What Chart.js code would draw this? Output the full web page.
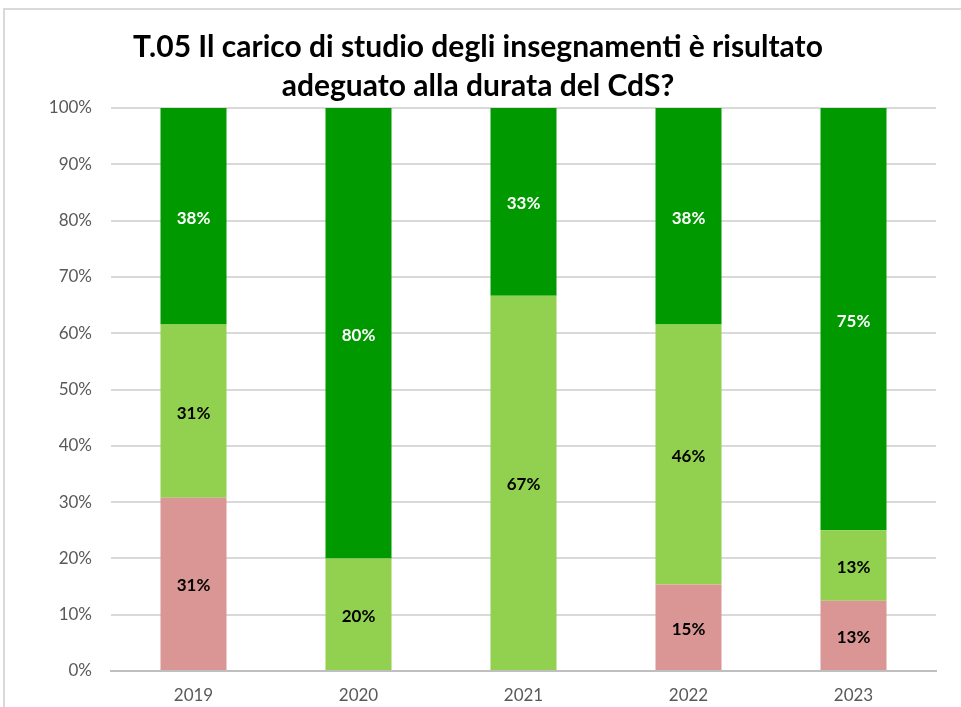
<!DOCTYPE html>
<html>
<head>
<meta charset="utf-8">
<script src="https://cdn.jsdelivr.net/npm/chart.js@4/dist/chart.umd.min.js"></script>
<style>
  html, body { margin: 0; padding: 0; background: #ffffff; }
  #wrap { width: 961px; height: 707px; position: relative; }
</style>
</head>
<body>
<div id="wrap"><canvas id="c" width="961" height="707"></canvas></div>
<script>
const categories = ['2019', '2020', '2021', '2022', '2023'];
// shares in percent (stack: bottom → top)
const seriesLow = [30.77, 0, 0, 15.38, 12.5];     // pink
const seriesMid = [30.77, 20, 66.67, 46.15, 12.5]; // light green
const seriesHigh = [38.46, 80, 33.33, 38.46, 75];  // dark green
const yTicks = [0, 10, 20, 30, 40, 50, 60, 70, 80, 90, 100];
const titleLines = ['T.05 Il carico di studio degli insegnamenti è risultato', 'adeguato alla durata del CdS?'];

const FONT = 'Lato, "Open Sans", "Liberation Sans", sans-serif';

const framePlugin = {
  id: 'frame',
  beforeDraw(chart) {
    const ctx = chart.ctx;
    ctx.save();
    ctx.strokeStyle = '#D9D9D9';
    ctx.lineWidth = 2;
    ctx.beginPath();
    ctx.moveTo(4, 707);
    ctx.lineTo(4, 9);
    ctx.lineTo(961, 9);
    ctx.stroke();
    ctx.restore();
  }
};

const labelPlugin = {
  id: 'barLabels',
  afterDatasetsDraw(chart) {
    const ctx = chart.ctx;
    ctx.save();
    ctx.font = 'bold 17px ' + FONT;
    ctx.textAlign = 'center';
    ctx.textBaseline = 'middle';
    chart.data.datasets.forEach((ds, di) => {
      const meta = chart.getDatasetMeta(di);
      meta.data.forEach((bar, i) => {
        const v = ds.data[i];
        if (!v) return;
        const p = bar.getProps(['x', 'y', 'base'], true);
        ctx.fillStyle = ds.labelColor;
        ctx.fillText(Math.round(v) + '%', p.x, (p.y + p.base) / 2 + 2);
      });
    });
    ctx.restore();
  }
};

new Chart(document.getElementById('c'), {
  type: 'bar',
  data: {
    labels: categories,
    datasets: [
      { label: 'Low', data: seriesLow, backgroundColor: '#DA9694', labelColor: '#000000', borderWidth: 0 },
      { label: 'Mid', data: seriesMid, backgroundColor: '#92D050', labelColor: '#000000', borderWidth: 0 },
      { label: 'High', data: seriesHigh, backgroundColor: '#009900', labelColor: '#ffffff', borderWidth: 0 }
    ]
  },
  options: {
    responsive: false,
    animation: false,
    devicePixelRatio: 1,
    layout: { padding: { top: 18, left: 20, right: 25, bottom: 0 } },
    datasets: { bar: { categoryPercentage: 1, barPercentage: 0.4 } },
    plugins: {
      legend: { display: false },
      tooltip: { enabled: false },
      title: {
        display: true,
        text: titleLines,
        color: '#000000',
        font: { family: FONT, size: 30, weight: 'bold', lineHeight: 39 / 30 },
        padding: { top: 10, bottom: 2 }
      }
    },
    scales: {
      x: {
        stacked: true,
        grid: { display: false, drawTicks: false },
        border: { display: true, color: '#BFBFBF', width: 2 },
        ticks: { color: '#595959', font: { family: FONT, size: 17 }, padding: 14 },
        afterFit(scale) { scale.height = 36; }
      },
      y: {
        stacked: true,
        min: 0,
        max: 100,
        afterBuildTicks(scale) { scale.ticks = yTicks.map(v => ({ value: v })); },
        grid: { color: '#D9D9D9', lineWidth: 2, drawTicks: false },
        border: { display: false },
        ticks: { color: '#595959', font: { family: FONT, size: 17 }, padding: 19, callback: v => v + '%' },
        afterFit(scale) { scale.width = 91; }
      }
    }
  },
  plugins: [framePlugin, labelPlugin]
});
</script>
</body>
</html>
